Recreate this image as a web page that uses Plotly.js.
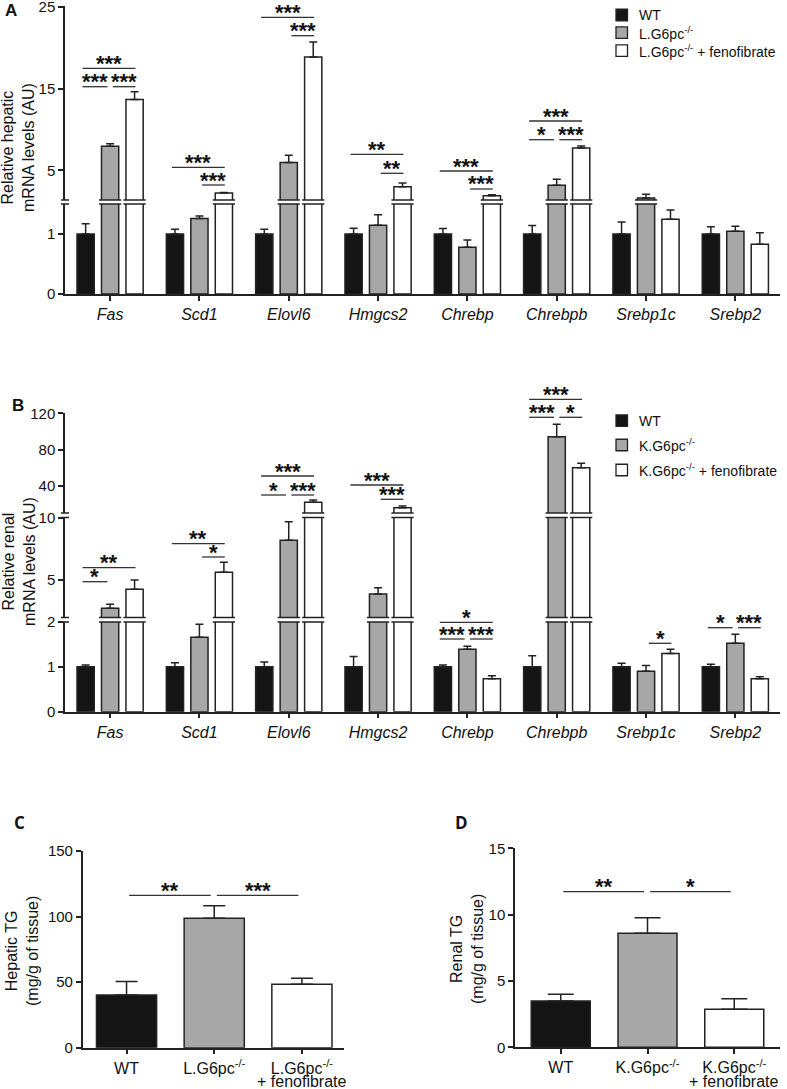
<!DOCTYPE html>
<html>
<head>
<meta charset="utf-8">
<script src="https://cdn.plot.ly/plotly-3.0.1.min.js"></script>
<style>
  body { margin: 0; background: #fff; }
  #chart { width: 787px; height: 1089px; }
</style>
</head>
<body>
<div id="chart"></div>
<script>
// Figure: hepatic / renal lipogenic gene expression and TG content
const W = 787, H = 1089;
const px = p => p / W;          // page pixel -> paper x
const py = p => 1 - p / H;      // page pixel -> paper y

// ---- data ----
const genes = ['Fas', 'Scd1', 'Elovl6', 'Hmgcs2', 'Chrebp', 'Chrebpb', 'Srebp1c', 'Srebp2'];

const liverNames = ['WT', 'L.G6pc<sup>-/-</sup>', 'L.G6pc<sup>-/-</sup> + fenofibrate'];
const liverWT = [1, 1, 1, 1, 1, 1, 1, 1];
const liverWTErr = [0.17, 0.08, 0.08, 0.095, 0.09, 0.14, 0.2, 0.12];
const liverKO = [7.95, 1.26, 5.95, 1.145, 0.78, 3.16, 1.62, 1.045];
const liverKOErr = [0.3, 0.04, 0.9, 0.175, 0.12, 0.74, 0.44, 0.085];
const liverFeno = [13.65, 2.22, 18.85, 3.0, 1.9, 7.73, 1.245, 0.83];
const liverFenoErr = [0.95, 0.08, 1.85, 0.45, 0.1, 0.24, 0.155, 0.19];

const kidneyNames = ['WT', 'K.G6pc<sup>-/-</sup>', 'K.G6pc<sup>-/-</sup> + fenofibrate'];
const kidneyWT = [1, 1, 1, 1, 1, 1, 1, 1];
const kidneyWTErr = [0.04, 0.09, 0.11, 0.23, 0.04, 0.25, 0.08, 0.06];
const kidneyKO = [2.74, 1.66, 8.18, 3.88, 1.39, 94.2, 0.9, 1.525];
const kidneyKOErr = [0.32, 0.29, 1.48, 0.5, 0.07, 13.7, 0.13, 0.2];
const kidneyFeno = [4.26, 5.62, 21.8, 15.8, 0.736, 60, 1.3, 0.736];
const kidneyFenoErr = [0.74, 0.8, 2.5, 1.9, 0.064, 4.9, 0.09, 0.044];

const hepaticCats = ['WT', 'L.G6pc<sup>-/-</sup>', 'L.G6pc<sup>-/-</sup><br>+ fenofibrate'];
const hepaticTG = [40.2, 98.8, 48.4];
const hepaticTGErr = [10.2, 9.4, 4.6];

const renalCats = ['WT', 'K.G6pc<sup>-/-</sup>', 'K.G6pc<sup>-/-</sup><br>+ fenofibrate'];
const renalTG = [3.49, 8.59, 2.86];
const renalTGErr = [0.51, 1.18, 0.8];

// significance brackets: [group, fromBar, toBar, label, line y (page px)]
const sigA = [
  [0, 0, 2, '***', 68.3], [0, 0, 1, '***', 86.7], [0, 1, 2, '***', 86.7],
  [1, 0, 2, '***', 167.3], [1, 1, 2, '***', 185],
  [2, 0, 2, '***', 17.3], [2, 1, 2, '***', 35.7],
  [3, 0, 2, '**', 154.3], [3, 1, 2, '**', 173.3],
  [4, 0, 2, '***', 171], [4, 1, 2, '***', 189],
  [5, 0, 2, '***', 121], [5, 0, 1, '*', 139.7], [5, 1, 2, '***', 139.7]
];
const sigB = [
  [0, 0, 2, '**', 567.7], [0, 0, 1, '*', 581.7],
  [1, 0, 2, '**', 543.7], [1, 1, 2, '*', 557],
  [2, 0, 2, '***', 476], [2, 0, 1, '*', 495], [2, 1, 2, '***', 495],
  [3, 0, 2, '***', 485], [3, 1, 2, '***', 499.3],
  [4, 0, 2, '*', 622.3], [4, 0, 1, '***', 639], [4, 1, 2, '***', 639],
  [5, 0, 2, '***', 399.3], [5, 0, 1, '***', 417.3], [5, 1, 2, '*', 417.3],
  [6, 1, 2, '*', 643.3],
  [7, 0, 1, '*', 627.7], [7, 1, 2, '***', 627.7]
];
const sigC = [[0, 1, '**', 895.3], [1, 2, '***', 895.3]];
const sigD = [[0, 1, '**', 891.7], [1, 2, '*', 891.7]];

// ---- styling ----
const fills = ['#151515', '#a7a7a7', '#ffffff'];
const ink = '#222';
const bargap = 0.178, bargroupgap = 0.296;
const slot = (1 - bargap) / 3;
const barW = slot * (1 - bargroupgap);
const fontFam = 'Arial, Liberation Sans, sans-serif';

// broken y axes: each segment has its own axis, domain given in page px
const segA = [
  { axis: 'y', range: [0, 1.5], px: [294, 204], ticks: [0, 1] },
  { axis: 'y2', range: [1.37, 25.05], px: [200, 6.3], ticks: [5, 15, 25] }
];
const segB = [
  { axis: 'y3', range: [0, 2], px: [711.7, 622], ticks: [0, 1, 2] },
  { axis: 'y4', range: [2, 10], px: [617.5, 517.5], ticks: [5, 10] },
  { axis: 'y5', range: [10, 120], px: [513, 413.3], ticks: [40, 80, 120] }
];

const axisBase = {
  showline: true, linecolor: ink, linewidth: 1.5,
  ticks: 'outside', ticklen: 5, tickwidth: 1.5, tickcolor: ink,
  showgrid: false, zeroline: false, fixedrange: true,
  ticklabeloverflow: 'allow',
  tickfont: { size: 15, family: fontFam, color: '#111' }
};

function brokenBars(xaxis, segs, series) {
  const traces = [];
  segs.forEach((seg, j) => {
    const lo = j === 0 ? -Infinity : segs[j - 1].range[1];
    const hi = j === segs.length - 1 ? Infinity : seg.range[1];
    series.forEach((s, k) => {
      traces.push({
        type: 'bar', x: genes,
        y: s.vals.map(v => (v > lo ? v : null)),
        xaxis: xaxis, yaxis: seg.axis,
        name: s.name, showlegend: false,
        marker: { color: fills[k], line: { color: ink, width: 1.5 } },
        error_y: {
          type: 'data', symmetric: false,
          array: s.vals.map((v, i) => (v > lo && v <= hi ? s.errs[i] : 0)),
          arrayminus: s.vals.map(() => 0),
          color: ink, thickness: 1.5, width: 4
        },
        hoverinfo: 'skip'
      });
    });
  });
  return traces;
}

function breakMarks(xref, segs, series) {
  const out = [];
  for (let j = 0; j < segs.length - 1; j++) {
    const top = segs[j].range[1];
    const edges = [segs[j].px[1], segs[j + 1].px[0]];
    series.forEach((s, k) => s.vals.forEach((v, i) => {
      if (v <= top) return;
      const c = i + (k - 1) * slot;
      edges.forEach(p => out.push({
        type: 'line', xref: xref, yref: 'paper',
        x0: c - barW / 2 - 0.028, x1: c + barW / 2 + 0.028, y0: py(p), y1: py(p),
        line: { color: ink, width: 1.5 }
      }));
    }));
    edges.forEach(p => out.push({
      type: 'line', xref: 'paper', yref: 'paper',
      x0: px(61), x1: px(69), y0: py(p), y1: py(p),
      line: { color: ink, width: 1.5 }
    }));
  }
  return out;
}

function sigMarks(xref, list) {
  const shapes = [], notes = [];
  list.forEach(([x0, x1, label, yPx]) => {
    shapes.push({
      type: 'line', xref: xref, yref: 'paper', x0: x0, x1: x1, y0: py(yPx), y1: py(yPx),
      line: { color: '#333', width: 1.3 }
    });
    notes.push({
      xref: xref, yref: 'paper', x: (x0 + x1) / 2, y: py(yPx - 5),
      text: label, showarrow: false, xanchor: 'center', yanchor: 'middle',
      font: { size: 22, family: fontFam, color: '#111', weight: 'bold' }
    });
  });
  return { shapes, notes };
}

// bracket ends for the grouped gene panels
function groupedSig(list) {
  return list.map(([g, a, b, label, y]) => {
    const ca = g + (a - 1) * slot, cb = g + (b - 1) * slot;
    const x0 = a === 0 ? ca - 0.035 : ca + 0.03;
    const x1 = b === 2 ? cb + 0.01 : cb - 0.03;
    return [x0, x1, label, y];
  });
}
function simpleSig(list) {
  return list.map(([a, b, label, y]) => [a + 0.03, b - 0.04, label, y]);
}

// key: square swatch + label per treatment group, rows at given page y
function legendBlock(names, xPx, rowsPx) {
  const shapes = [], notes = [];
  names.forEach((name, k) => {
    const y = rowsPx[k];
    shapes.push({
      type: 'rect', xref: 'paper', yref: 'paper',
      x0: px(xPx), x1: px(xPx + 11.5), y0: py(y + 5.75), y1: py(y - 5.75),
      fillcolor: fills[k], line: { color: ink, width: 1.3 }
    });
    notes.push({
      xref: 'paper', yref: 'paper', x: px(xPx + 21), y: py(y), text: name,
      showarrow: false, xanchor: 'left', yanchor: 'middle',
      font: { size: 14, family: fontFam, color: '#111' }
    });
  });
  return { shapes, notes };
}

const liverSeries = [
  { name: liverNames[0], vals: liverWT, errs: liverWTErr },
  { name: liverNames[1], vals: liverKO, errs: liverKOErr },
  { name: liverNames[2], vals: liverFeno, errs: liverFenoErr }
];
const kidneySeries = [
  { name: kidneyNames[0], vals: kidneyWT, errs: kidneyWTErr },
  { name: kidneyNames[1], vals: kidneyKO, errs: kidneyKOErr },
  { name: kidneyNames[2], vals: kidneyFeno, errs: kidneyFenoErr }
];

const data = [
  ...brokenBars('x', segA, liverSeries),
  ...brokenBars('x2', segB, kidneySeries),
  {
    type: 'bar', x: hepaticCats, y: hepaticTG, xaxis: 'x3', yaxis: 'y6',
    width: hepaticTG.map(() => 0.686), showlegend: false,
    marker: { color: fills, line: { color: ink, width: 1.5 } },
    error_y: { type: 'data', symmetric: false, array: hepaticTGErr, arrayminus: hepaticTG.map(() => 0),
      color: ink, thickness: 1.5, width: 11 },
    hoverinfo: 'skip'
  },
  {
    type: 'bar', x: renalCats, y: renalTG, xaxis: 'x4', yaxis: 'y7',
    width: renalTG.map(() => 0.68), showlegend: false,
    marker: { color: fills, line: { color: ink, width: 1.5 } },
    error_y: { type: 'data', symmetric: false, array: renalTGErr, arrayminus: renalTG.map(() => 0),
      color: ink, thickness: 1.5, width: 13 },
    hoverinfo: 'skip'
  }
];

const geneAxis = (yAnchor) => Object.assign({}, axisBase, {
  domain: [px(65), px(780)], anchor: yAnchor, range: [-0.505, 7.5],
  type: 'category', categoryorder: 'array', categoryarray: genes,
  tickfont: { size: 16, family: fontFam, color: '#111', style: 'italic' }
});
const segAxis = (seg, xAnchor) => Object.assign({}, axisBase, {
  domain: [py(seg.px[0]), py(seg.px[1])], range: seg.range, anchor: xAnchor,
  tickvals: seg.ticks
});
// treatment-group axes: first line as tick label, second line placed just below
const groupAxis = (cats, domainPx, yAnchor, range) => Object.assign({}, axisBase, {
  domain: [px(domainPx[0]), px(domainPx[1])], anchor: yAnchor, range: range,
  type: 'category', categoryorder: 'array', categoryarray: cats,
  tickvals: cats, ticktext: cats.map(c => c.split('<br>')[0]),
  tickfont: { size: 16, family: fontFam, color: '#111' }
});
const secondLines = (cats, xref, yPx) => cats
  .map((c, i) => [c.split('<br>')[1], i])
  .filter(([t]) => t)
  .map(([t, i]) => ({
    xref: xref, yref: 'paper', x: i, y: py(yPx), text: t, showarrow: false,
    xanchor: 'center', yanchor: 'middle', font: { size: 16, family: fontFam, color: '#111' }
  }));

const sA = sigMarks('x', groupedSig(sigA));
const sB = sigMarks('x2', groupedSig(sigB));
const sC = sigMarks('x3', simpleSig(sigC));
const sD = sigMarks('x4', simpleSig(sigD));
const keyA = legendBlock(liverNames, 616, [15, 32.7, 50.7]);
const keyB = legendBlock(kidneyNames, 616, [420.7, 445, 470]);

const titleFont = { size: 16, family: fontFam, color: '#111' };
const yTitle = (text, xPx, yPx) => ({
  xref: 'paper', yref: 'paper', x: px(xPx), y: py(yPx), text: text, textangle: -90,
  showarrow: false, xanchor: 'center', yanchor: 'middle', font: titleFont
});
const panelLabel = (text, xPx, yPx, family) => ({
  xref: 'paper', yref: 'paper', x: px(xPx), y: py(yPx), text: '<b>' + text + '</b>',
  showarrow: false, xanchor: 'center', yanchor: 'middle',
  font: { size: 17, family: family, color: '#111' }
});

const layout = {
  width: W, height: H,
  margin: { l: 0, r: 0, t: 0, b: 0 },
  paper_bgcolor: '#ffffff', plot_bgcolor: 'rgba(0,0,0,0)',
  font: { family: fontFam, size: 15, color: '#111' },
  showlegend: false,
  barmode: 'group', bargap: bargap, bargroupgap: bargroupgap,
  xaxis: geneAxis('y'),
  yaxis: segAxis(segA[0], 'x'),
  yaxis2: segAxis(segA[1], 'x'),
  xaxis2: geneAxis('y3'),
  yaxis3: segAxis(segB[0], 'x2'),
  yaxis4: segAxis(segB[1], 'x2'),
  yaxis5: segAxis(segB[2], 'x2'),
  xaxis3: groupAxis(hepaticCats, [82.7, 344], 'y6', [-0.5, 2.48]),
  yaxis6: Object.assign({}, axisBase, {
    domain: [py(1047.7), py(851)], anchor: 'x3', range: [0, 150], tickvals: [0, 50, 100, 150]
  }),
  xaxis4: groupAxis(renalCats, [515, 780], 'y7', [-0.527, 2.527]),
  yaxis7: Object.assign({}, axisBase, {
    domain: [py(1047.3), py(848.3)], anchor: 'x4', range: [0, 15], tickvals: [0, 5, 10, 15]
  }),
  shapes: [
    ...breakMarks('x', segA, liverSeries),
    ...breakMarks('x2', segB, kidneySeries),
    ...sA.shapes, ...sB.shapes, ...sC.shapes, ...sD.shapes,
    ...keyA.shapes, ...keyB.shapes
  ],
  annotations: [
    ...sA.notes, ...sB.notes, ...sC.notes, ...sD.notes,
    ...keyA.notes, ...keyB.notes,
    ...secondLines(hepaticCats, 'x3', 1081),
    ...secondLines(renalCats, 'x4', 1081),
    yTitle('Relative hepatic<br>mRNA levels (AU)', 18, 148),
    yTitle('Relative renal<br>mRNA levels (AU)', 19, 562),
    yTitle('Hepatic TG<br>(mg/g of tissue)', 22, 951),
    yTitle('Renal TG<br>(mg/g of tissue)', 467, 949),
    panelLabel('A', 11, 10, fontFam),
    panelLabel('B', 17.5, 406, fontFam),
    panelLabel('C', 19, 822.5, 'Open Sans, sans-serif'),
    panelLabel('D', 461.5, 822, 'Open Sans, sans-serif')
  ]
};

window.Plotly.newPlot('chart', data, layout, { displayModeBar: false, responsive: false });
</script>
</body>
</html>
